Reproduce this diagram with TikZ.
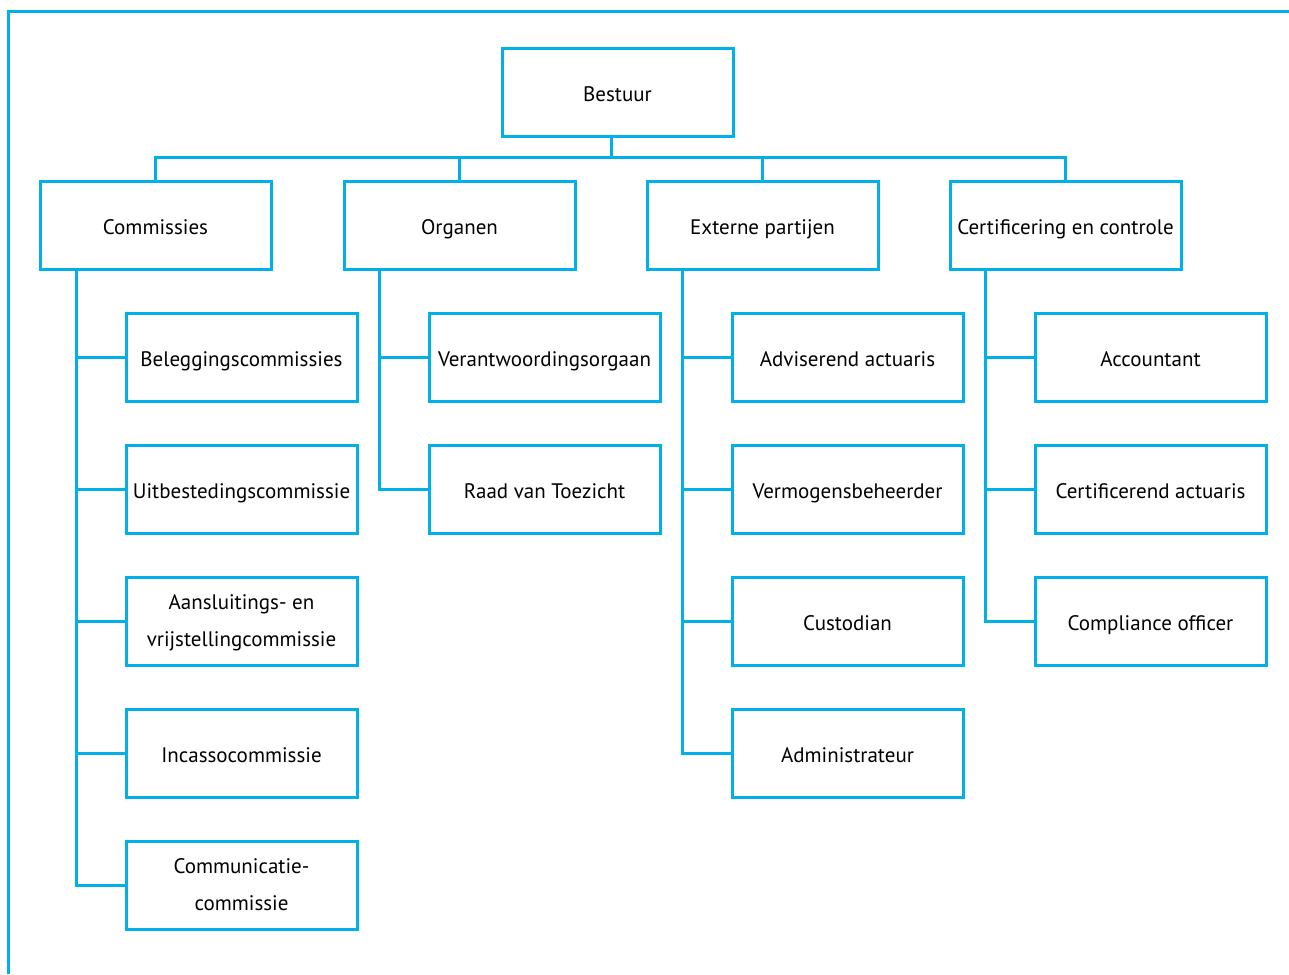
\documentclass[tikz,border=0pt]{standalone}
\usepackage{fontspec}
\setmainfont{PT Sans}
\definecolor{cy}{RGB}{0,176,230}
\newcommand{\topstrut}{\rule{0pt}{20pt}}
\newcommand{\botstrut}{\rule[-7pt]{0pt}{7pt}}
\begin{document}
\begin{tikzpicture}[x=1pt,y=-1pt,
  frame/.style={draw=cy,line width=3pt,minimum width=231pt,minimum height=88pt,
    inner sep=0pt,font=\fontsize{21}{37}\selectfont},
  box/.style={frame,text height=20pt,text depth=2pt},
  twobox/.style={frame,align=center},
  conn/.style={draw=cy,line width=3pt}]
\useasboundingbox (0,0) rectangle (1289,974);
\draw[conn] (8,974) -- (8,12) -- (1289,12);
\node[box] (b) at (617.5,92.5) {Bestuur};
\node[box] (c) at (155.5,225) {Commissies};
\node[box] (o) at (459.5,225) {Organen};
\node[box] (e) at (762.5,225) {Externe partijen};
\node[box] (k) at (1065.5,225) {Certificering en controle};
% children
\node[box] (c1) at (241.5,357) {Beleggingscommissies};
\node[box] (c2) at (241.5,489) {Uitbestedingscommissie};
\node[twobox] (c3) at (241.5,621) {\topstrut Aansluitings- en\\vrijstellingcommissie\botstrut};
\node[box] (c4) at (241.5,753) {Incassocommissie};
\node[twobox] (c5) at (241.5,885) {\topstrut Communicatie-\\commissie\botstrut};
\node[box] (o1) at (544.5,357) {Verantwoordingsorgaan};
\node[box] (o2) at (544.5,489) {Raad van Toezicht};
\node[box] (e1) at (847.5,357) {Adviserend actuaris};
\node[box] (e2) at (847.5,489) {Vermogensbeheerder};
\node[box] (e3) at (847.5,621) {Custodian};
\node[box] (e4) at (847.5,753) {Administrateur};
\node[box] (k1) at (1150.5,357) {Accountant};
\node[box] (k2) at (1150.5,489) {Certificerend actuaris};
\node[box] (k3) at (1150.5,621) {Compliance officer};
% top bus
\coordinate (bus) at (611,157);
\draw[conn] (b.south -| bus) -- (bus);
\draw[conn] (c.north) |- (bus) -| (k.north);
\draw[conn] (o.north) -- (o.north |- bus);
\draw[conn] (e.north) -- (e.north |- bus);
% trunks
\coordinate (tc) at (76,269);
\coordinate (to) at (379,269);
\coordinate (te) at (682,269);
\coordinate (tk) at (985,269);
\draw[conn] (tc) |- (c5.west);
\foreach \n in {c1,c2,c3,c4} \draw[conn] (tc |- \n.west) -- (\n.west);
\draw[conn] (to) |- (o2.west);
\draw[conn] (to |- o1.west) -- (o1.west);
\draw[conn] (te) |- (e4.west);
\foreach \n in {e1,e2,e3} \draw[conn] (te |- \n.west) -- (\n.west);
\draw[conn] (tk) |- (k3.west);
\foreach \n in {k1,k2} \draw[conn] (tk |- \n.west) -- (\n.west);
\end{tikzpicture}
\end{document}
